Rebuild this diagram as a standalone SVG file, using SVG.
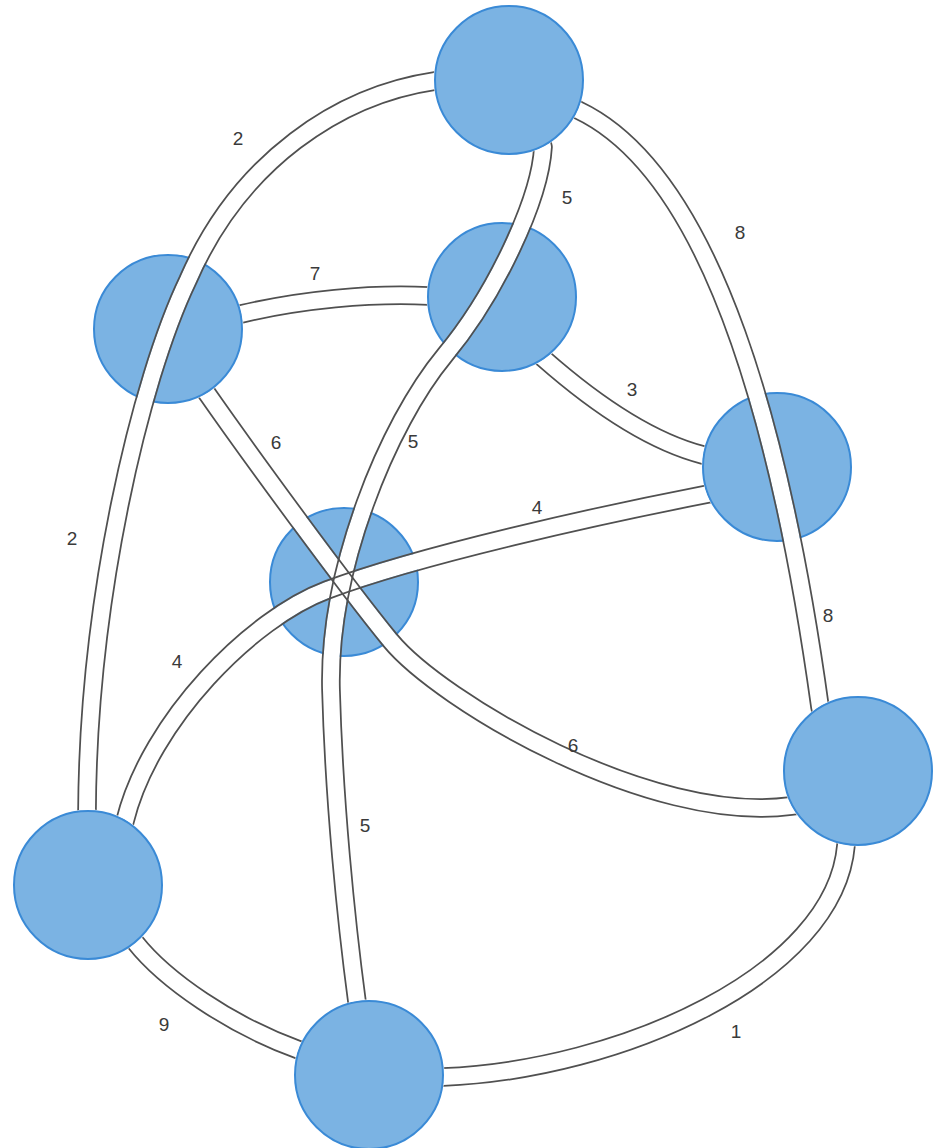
<svg xmlns="http://www.w3.org/2000/svg" xmlns:xlink="http://www.w3.org/1999/xlink" width="943" height="1148" viewBox="0 0 943 1148">
<style>
.node circle{fill:#7bb3e3;stroke:#3a8ad6;stroke-width:2}
.tf{fill:none;stroke:#fff;stroke-width:16;stroke-linejoin:round}
.tl{fill:none;stroke:#505050;stroke-width:19.5;stroke-linejoin:round}
.mk{fill:none;stroke:#000;stroke-width:16;stroke-linejoin:round}
.lbl{font-family:"Liberation Sans",Arial,sans-serif;font-size:19px;fill:#3a3a3a;text-anchor:middle}
</style>
<defs>
<path id="pAG" d="M443,80 L435,81 C340,95 240,160 188,280 C140,380 88,600 87,812 L87,822"/>
<path id="pAH" d="M541,139 L543,147 C540,200 495,295 445,355 C387,425 328,570 331,690 C334,800 346,920 357,1002 L358,1010"/>
<path id="pAF" d="M571,106 L578,110 C715,175 783,440 820,707 L822,715"/>
<path id="pBC" d="M233,316 L241,314 C300,300 370,293 429,296 L437,296"/>
<path id="pCD" d="M537,352 L543,358 C585,395 645,440 703,455 L711,457"/>
<path id="pDG" d="M716,492 L708,494 C600,515 420,555 327,590 C252,618 150,720 125,821 L123,829"/>
<path id="pBF" d="M201,385 L206,392 C250,455 345,585 390,640 C440,701 650,825 791,806 L799,805"/>
<path id="pGH" d="M129,935 L135,942 C165,980 230,1025 299,1050 L307,1053"/>
<path id="pHF" d="M435,1078 L443,1077 C620,1070 835,975 846,845 L847,837"/>
<circle id="cA" cx="509" cy="80" r="75.5"/>
<circle id="cB" cx="168" cy="329" r="75.5"/>
<circle id="cC" cx="502" cy="297" r="75.5"/>
<circle id="cD" cx="777" cy="467" r="75.5"/>
<circle id="cE" cx="344" cy="582" r="75.5"/>
<circle id="cF" cx="858" cy="771" r="75.5"/>
<circle id="cG" cx="88" cy="885" r="75.5"/>
<circle id="cH" cx="369" cy="1075" r="75.5"/>
<rect id="bg" x="0" y="0" width="943" height="1148" fill="#fff"/>

<mask id="fAG" maskUnits="userSpaceOnUse" x="0" y="0" width="943" height="1148"><use href="#bg"/><use href="#cA" fill="#000"/><use href="#cG" fill="#000"/></mask>
<mask id="lAG" maskUnits="userSpaceOnUse" x="0" y="0" width="943" height="1148"><use href="#bg"/><use href="#pAG" class="mk"/><use href="#cA" fill="#000"/><use href="#cG" fill="#000"/></mask>
<mask id="fAH" maskUnits="userSpaceOnUse" x="0" y="0" width="943" height="1148"><use href="#bg"/><use href="#cA" fill="#000"/><use href="#cH" fill="#000"/></mask>
<mask id="lAH" maskUnits="userSpaceOnUse" x="0" y="0" width="943" height="1148"><use href="#bg"/><use href="#pAH" class="mk"/><use href="#cA" fill="#000"/><use href="#cH" fill="#000"/></mask>
<mask id="fAF" maskUnits="userSpaceOnUse" x="0" y="0" width="943" height="1148"><use href="#bg"/><use href="#cA" fill="#000"/><use href="#cF" fill="#000"/></mask>
<mask id="lAF" maskUnits="userSpaceOnUse" x="0" y="0" width="943" height="1148"><use href="#bg"/><use href="#pAF" class="mk"/><use href="#cA" fill="#000"/><use href="#cF" fill="#000"/></mask>
<mask id="fBC" maskUnits="userSpaceOnUse" x="0" y="0" width="943" height="1148"><use href="#bg"/><use href="#cB" fill="#000"/><use href="#cC" fill="#000"/></mask>
<mask id="lBC" maskUnits="userSpaceOnUse" x="0" y="0" width="943" height="1148"><use href="#bg"/><use href="#pBC" class="mk"/><use href="#cB" fill="#000"/><use href="#cC" fill="#000"/></mask>
<mask id="fCD" maskUnits="userSpaceOnUse" x="0" y="0" width="943" height="1148"><use href="#bg"/><use href="#cC" fill="#000"/><use href="#cD" fill="#000"/></mask>
<mask id="lCD" maskUnits="userSpaceOnUse" x="0" y="0" width="943" height="1148"><use href="#bg"/><use href="#pCD" class="mk"/><use href="#cC" fill="#000"/><use href="#cD" fill="#000"/></mask>
<mask id="fDG" maskUnits="userSpaceOnUse" x="0" y="0" width="943" height="1148"><use href="#bg"/><use href="#cD" fill="#000"/><use href="#cG" fill="#000"/></mask>
<mask id="lDG" maskUnits="userSpaceOnUse" x="0" y="0" width="943" height="1148"><use href="#bg"/><use href="#pDG" class="mk"/><use href="#cD" fill="#000"/><use href="#cG" fill="#000"/></mask>
<mask id="fBF" maskUnits="userSpaceOnUse" x="0" y="0" width="943" height="1148"><use href="#bg"/><use href="#cB" fill="#000"/><use href="#cF" fill="#000"/></mask>
<mask id="lBF" maskUnits="userSpaceOnUse" x="0" y="0" width="943" height="1148"><use href="#bg"/><use href="#pBF" class="mk"/><use href="#cB" fill="#000"/><use href="#cF" fill="#000"/></mask>
<mask id="fGH" maskUnits="userSpaceOnUse" x="0" y="0" width="943" height="1148"><use href="#bg"/><use href="#cG" fill="#000"/><use href="#cH" fill="#000"/></mask>
<mask id="lGH" maskUnits="userSpaceOnUse" x="0" y="0" width="943" height="1148"><use href="#bg"/><use href="#pGH" class="mk"/><use href="#cG" fill="#000"/><use href="#cH" fill="#000"/></mask>
<mask id="fHF" maskUnits="userSpaceOnUse" x="0" y="0" width="943" height="1148"><use href="#bg"/><use href="#cH" fill="#000"/><use href="#cF" fill="#000"/></mask>
<mask id="lHF" maskUnits="userSpaceOnUse" x="0" y="0" width="943" height="1148"><use href="#bg"/><use href="#pHF" class="mk"/><use href="#cH" fill="#000"/><use href="#cF" fill="#000"/></mask>
</defs>

<rect width="943" height="1148" fill="#fff"/>

<g id="node-A" class="node"><circle cx="509" cy="80" r="74"/></g>
<g id="node-B" class="node"><circle cx="168" cy="329" r="74"/></g>
<g id="node-C" class="node"><circle cx="502" cy="297" r="74"/></g>
<g id="node-D" class="node"><circle cx="777" cy="467" r="74"/></g>
<g id="node-E" class="node"><circle cx="344" cy="582" r="74"/></g>
<g id="node-F" class="node"><circle cx="858" cy="771" r="74"/></g>
<g id="node-G" class="node"><circle cx="88" cy="885" r="74"/></g>
<g id="node-H" class="node"><circle cx="369" cy="1075" r="74"/></g>

<g id="connectors">
<g id="tube-fills">
<use href="#pAG" class="tf" mask="url(#fAG)"/>
<use href="#pAH" class="tf" mask="url(#fAH)"/>
<use href="#pAF" class="tf" mask="url(#fAF)"/>
<use href="#pBC" class="tf" mask="url(#fBC)"/>
<use href="#pCD" class="tf" mask="url(#fCD)"/>
<use href="#pDG" class="tf" mask="url(#fDG)"/>
<use href="#pBF" class="tf" mask="url(#fBF)"/>
<use href="#pGH" class="tf" mask="url(#fGH)"/>
<use href="#pHF" class="tf" mask="url(#fHF)"/>
</g>
<g id="tube-outlines">
<use href="#pAG" class="tl" mask="url(#lAG)"/>
<use href="#pAH" class="tl" mask="url(#lAH)"/>
<use href="#pAF" class="tl" mask="url(#lAF)"/>
<use href="#pBC" class="tl" mask="url(#lBC)"/>
<use href="#pCD" class="tl" mask="url(#lCD)"/>
<use href="#pDG" class="tl" mask="url(#lDG)"/>
<use href="#pBF" class="tl" mask="url(#lBF)"/>
<use href="#pGH" class="tl" mask="url(#lGH)"/>
<use href="#pHF" class="tl" mask="url(#lHF)"/>
</g>
<g id="labels">
<text class="lbl" x="238" y="145">2</text>
<text class="lbl" x="72" y="545">2</text>
<text class="lbl" x="567" y="204">5</text>
<text class="lbl" x="413" y="448">5</text>
<text class="lbl" x="365" y="832">5</text>
<text class="lbl" x="740" y="239">8</text>
<text class="lbl" x="828" y="622">8</text>
<text class="lbl" x="315" y="280">7</text>
<text class="lbl" x="632" y="396">3</text>
<text class="lbl" x="276" y="449">6</text>
<text class="lbl" x="573" y="752">6</text>
<text class="lbl" x="537" y="514">4</text>
<text class="lbl" x="177" y="668">4</text>
<text class="lbl" x="164" y="1031">9</text>
<text class="lbl" x="736" y="1038">1</text>
</g>
</g>
</svg>
